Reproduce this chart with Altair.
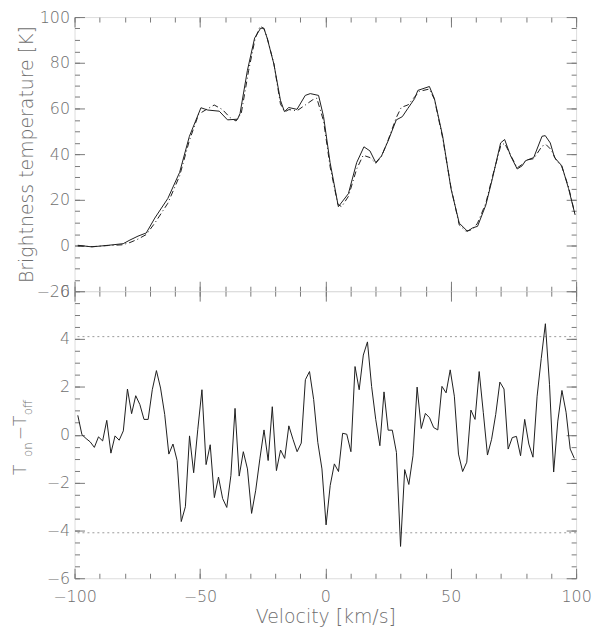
import altair as alt
import pandas as pd

# ---------------- data ----------------
# top panel: observed spectrum (solid line)
obs_v = [-98.7, -93.1, -86.5, -80.6, -77.9, -74.7, -71.4, -68.0, -62.8, -58.1,
         -54.2, -49.6, -46.9, -42.3, -39.0, -35.0, -34.0, -31.1, -28.2, -25.8,
         -24.5, -23.2, -20.5, -17.9, -16.3, -14.6, -11.3, -8.0, -6.0, -2.7,
         -0.7, 1.9, 5.2, 9.2, 12.5, 15.4, 17.8, 20.1, 22.4, 25.0,
         28.3, 30.7, 32.9, 35.6, 36.9, 41.5, 43.5, 46.8, 50.1, 53.4,
         56.7, 58.7, 60.7, 64.0, 66.6, 69.9, 71.5, 73.9, 76.5, 78.5,
         79.8, 83.1, 86.4, 87.7, 89.7, 91.4, 94.3, 97.0, 99.6]
obs_t = [0.1, -0.6, 0.1, 0.8, 2.4, 4.1, 5.5, 12.0, 20.6, 32.0,
         47.8, 60.3, 59.3, 58.8, 55.0, 55.3, 57.8, 76.5, 90.8, 95.1,
         95.1, 90.8, 79.4, 63.6, 58.6, 60.4, 59.6, 65.7, 66.5, 65.7,
         56.4, 36.3, 17.0, 22.7, 36.3, 43.2, 41.4, 36.3, 39.2, 45.7,
         55.0, 56.4, 60.0, 64.3, 67.9, 69.6, 64.3, 47.8, 24.9, 9.8,
         6.2, 7.7, 8.4, 17.7, 29.2, 44.9, 46.4, 39.2, 33.5, 34.9,
         37.1, 38.5, 47.8, 48.1, 44.9, 38.5, 34.9, 24.9, 13.4]

# top panel: model spectrum (dash-dot line)
mod_v = [-98.7, -93.0, -86.5, -81.0, -77.9, -74.7, -71.4, -68.0, -62.8, -58.1,
         -54.2, -50.5, -47.5, -44.3, -41.0, -38.0, -35.6, -33.5, -30.6, -28.0,
         -26.0, -24.5, -23.2, -20.5, -17.9, -16.2, -14.5, -11.3, -8.0, -5.0,
         -3.4, -0.7, 1.9, 5.0, 6.5, 9.2, 12.5, 15.1, 17.8, 20.1,
         22.4, 25.0, 28.3, 30.3, 32.9, 35.6, 37.5, 41.5, 43.5, 46.8,
         50.1, 53.4, 56.0, 58.7, 60.7, 64.0, 66.6, 69.9, 71.5, 73.9,
         76.5, 78.5, 80.5, 83.1, 86.4, 88.0, 90.0, 92.0, 94.3, 97.0, 99.6]
mod_t = [-0.2, -0.5, 0.0, 0.3, 1.3, 2.8, 4.8, 9.8, 18.5, 30.5,
         46.0, 57.5, 59.5, 61.5, 59.5, 56.0, 54.5, 58.0, 76.5, 90.5,
         96.0, 95.0, 91.0, 79.5, 62.0, 58.5, 59.5, 59.0, 61.5, 63.8,
         64.5, 54.5, 34.5, 18.0, 17.0, 21.5, 33.5, 39.5, 38.5, 36.0,
         39.0, 46.0, 56.0, 60.5, 61.5, 65.0, 67.5, 68.5, 64.0, 47.0,
         25.5, 9.0, 6.3, 7.0, 9.8, 18.5, 30.0, 43.5, 44.8, 39.5,
         34.0, 35.5, 37.5, 38.0, 43.5, 44.2, 42.0, 37.5, 34.5, 25.5, 13.5]

# bottom panel: residual T_on - T_off
res_v = [-98.70, -97.05, -95.40, -93.75, -92.10, -90.45, -88.80, -87.15, -85.50, -83.85,
         -82.20, -80.55, -78.90, -77.25, -75.60, -73.95, -72.30, -70.65, -69.00, -67.35,
         -65.70, -64.05, -62.40, -60.75, -59.10, -57.45, -55.80, -54.15, -52.50, -50.85,
         -49.20, -47.55, -45.90, -44.25, -42.60, -40.95, -39.30, -37.65, -36.00, -34.35,
         -32.70, -31.05, -29.40, -27.75, -26.10, -24.45, -22.80, -21.15, -19.50, -17.85,
         -16.20, -14.55, -12.90, -11.25, -9.60, -7.95, -6.30, -4.65, -3.00, -1.35,
         0.30, 1.95, 3.60, 5.25, 6.90, 8.55, 10.20, 11.85, 13.50, 15.15,
         16.80, 18.45, 20.10, 21.75, 23.40, 25.05, 26.70, 28.35, 30.00, 31.65,
         33.30, 34.95, 36.60, 38.25, 39.90, 41.55, 43.20, 44.85, 46.50, 48.15,
         49.80, 51.45, 53.10, 54.75, 56.40, 58.05, 59.70, 61.35, 63.00, 64.65,
         66.30, 67.95, 69.60, 71.25, 72.90, 74.55, 76.20, 77.85, 79.50, 81.15,
         82.80, 84.45, 86.10, 87.75, 89.40, 91.05, 92.70, 94.35, 96.00, 97.65, 99.30]
res_t = [0.81, 0.00, -0.16, -0.30, -0.53, -0.09, -0.26, 0.60, -0.77, -0.05,
         -0.23, 0.16, 1.91, 0.88, 1.63, 1.26, 0.64, 0.64, 1.88, 2.68,
         1.95, 0.85, -0.81, -0.39, -1.08, -3.63, -3.01, -0.05, -1.59, 0.23,
         1.88, -1.25, -0.42, -2.63, -1.77, -2.67, -3.04, -1.70, 1.10, -1.73,
         -0.71, -1.43, -3.29, -2.32, -1.01, 0.20, -1.08, 1.17, -1.50, -0.64,
         -0.99, 0.37, -0.19, -0.71, -0.35, 2.30, 2.64, 1.47, -0.32, -1.43,
         -3.77, -2.12, -1.22, -1.54, 0.06, 0.02, -0.71, 2.85, 1.88, 3.33,
         3.88, 2.02, 0.64, -0.46, 1.79, 0.19, 0.19, -0.74, -4.67, -1.46,
         -2.08, -0.88, 1.99, 0.26, 0.89, 0.71, 0.30, 0.20, 2.02, 1.75,
         2.71, 1.61, -0.81, -1.54, -1.15, 1.03, 0.64, 2.64, 0.92, -0.85,
         -0.19, 0.85, 2.20, 1.91, -0.60, -0.12, -0.07, -0.88, 0.64, -0.39,
         -0.94, 1.61, 3.19, 4.64, 2.09, -1.56, 0.57, 1.85, 0.94, -0.60, -0.99]

# 3-sigma reference levels
sigma_levels = [4.1, -4.1]

# axis ticks
x_major = [-100, -50, 0, 50, 100]
x_minor = [-100, -90, -80, -70, -60, -50, -40, -30, -20, -10, 0,
           10, 20, 30, 40, 50, 60, 70, 80, 90, 100]
top_major = [-20, 0, 20, 40, 60, 80, 100]
top_minor = [-20, -15, -10, -5, 0, 5, 10, 15, 20, 25, 30, 35, 40, 45, 50, 55,
             60, 65, 70, 75, 80, 85, 90, 95, 100]
bot_major = [-6, -4, -2, 0, 2, 4, 6]
bot_minor = [-6, -5.5, -5, -4.5, -4, -3.5, -3, -2.5, -2, -1.5, -1, -0.5, 0,
             0.5, 1, 1.5, 2, 2.5, 3, 3.5, 4, 4.5, 5, 5.5, 6]

# ---------------- styling ----------------
FONT = "DejaVu Sans"
TXT = "#6e6e6e"
AX = "#7a7a7a"
LINE = "#1e1e1e"
W = 505
H_TOP = 276
H_BOT = 289

obs_df = pd.DataFrame({"v": obs_v, "t": obs_t})
mod_df = pd.DataFrame({"v": mod_v, "t": mod_t})
res_df = pd.DataFrame({"v": res_v, "r": res_t})
sig_df = pd.DataFrame({"s": sigma_levels})

xs = alt.Scale(domain=[-100, 100], nice=False, zero=False)
ys_top = alt.Scale(domain=[-20, 100], nice=False, zero=False)
ys_bot = alt.Scale(domain=[-6, 6], nice=False, zero=False)


def tick_axis(orient, values, size):
    return alt.Axis(orient=orient, values=values, tickSize=size, offset=-size,
                    labels=False, domain=False, grid=False, title=None,
                    ticks=True, tickColor=AX, tickWidth=1)


def label_axis_y(values, title):
    kw = dict(orient="left", values=values, ticks=False, domain=False, grid=False,
              labelPadding=5, labelFont=FONT, labelFontSize=16, labelColor=TXT,
              labelFontWeight=200)
    if title:
        kw.update(title=title, titleFont=FONT, titleFontSize=19, titleColor=TXT,
                  titleFontWeight=200, titlePadding=0)
    else:
        kw.update(title=None)
    return alt.Axis(**kw)


# ---------------- top panel ----------------
t_obs = alt.Chart(obs_df).mark_line(color=LINE, strokeWidth=1).encode(
    x=alt.X("v:Q", scale=xs, axis=tick_axis("bottom", x_major, 10)),
    y=alt.Y("t:Q", scale=ys_top, axis=label_axis_y(top_major, "Brightness temperature [K]")),
)
t_mod = alt.Chart(mod_df).mark_line(color=LINE, strokeWidth=1, strokeDash=[6, 3, 1, 3]).encode(
    x=alt.X("v:Q", scale=xs, axis=tick_axis("bottom", x_minor, 5)),
    y=alt.Y("t:Q", scale=ys_top, axis=tick_axis("left", top_major, 10)),
)
t_a1 = alt.Chart(obs_df).mark_line(opacity=0).encode(
    x=alt.X("v:Q", scale=xs, axis=tick_axis("top", x_major, 10)),
    y=alt.Y("t:Q", scale=ys_top, axis=tick_axis("left", top_minor, 5)),
)
t_a2 = alt.Chart(obs_df).mark_line(opacity=0).encode(
    x=alt.X("v:Q", scale=xs, axis=tick_axis("top", x_minor, 5)),
    y=alt.Y("t:Q", scale=ys_top, axis=tick_axis("right", top_major, 10)),
)
t_a3 = alt.Chart(obs_df).mark_line(opacity=0).encode(
    x=alt.X("v:Q", scale=xs, axis=None),
    y=alt.Y("t:Q", scale=ys_top, axis=tick_axis("right", top_minor, 5)),
)
top = alt.layer(t_obs, t_mod, t_a1, t_a2, t_a3).resolve_axis(
    x="independent", y="independent").properties(width=W, height=H_TOP)

# ---------------- bottom panel ----------------
b_res = alt.Chart(res_df).mark_line(color=LINE, strokeWidth=1).encode(
    x=alt.X("v:Q", scale=xs, axis=alt.Axis(
        orient="bottom", values=x_major, ticks=False, domain=False, grid=False,
        labelFlush=False, labelPadding=10, labelFont=FONT, labelFontSize=16,
        labelColor=TXT, labelFontWeight=200,
        title="Velocity [km/s]", titleFont=FONT, titleFontSize=19, titleColor=TXT,
        titleFontWeight=200, titlePadding=4)),
    y=alt.Y("r:Q", scale=ys_bot, axis=label_axis_y(bot_major, None)),
)
b_sig = alt.Chart(sig_df).mark_rule(color="#9a9a9a", strokeWidth=1, strokeDash=[2, 3]).encode(
    y=alt.Y("s:Q", scale=ys_bot, axis=tick_axis("left", bot_major, 10)),
)
b_a1 = alt.Chart(res_df).mark_line(opacity=0).encode(
    x=alt.X("v:Q", scale=xs, axis=tick_axis("bottom", x_major, 10)),
    y=alt.Y("r:Q", scale=ys_bot, axis=tick_axis("left", bot_minor, 5)),
)
b_a2 = alt.Chart(res_df).mark_line(opacity=0).encode(
    x=alt.X("v:Q", scale=xs, axis=tick_axis("bottom", x_minor, 5)),
    y=alt.Y("r:Q", scale=ys_bot, axis=tick_axis("right", bot_major, 10)),
)
b_a3 = alt.Chart(res_df).mark_line(opacity=0).encode(
    x=alt.X("v:Q", scale=xs, axis=tick_axis("top", x_major, 10)),
    y=alt.Y("r:Q", scale=ys_bot, axis=tick_axis("right", bot_minor, 5)),
)
b_a4 = alt.Chart(res_df).mark_line(opacity=0).encode(
    x=alt.X("v:Q", scale=xs, axis=tick_axis("top", x_minor, 5)),
    y=alt.Y("r:Q", scale=ys_bot, axis=None),
)

one = pd.DataFrame({"k": [0]})


def ttl(text, x, y, size):
    return alt.Chart(one).mark_text(
        angle=270, align="left", baseline="alphabetic", font=FONT,
        fontSize=size, fontWeight=200, color=TXT).encode(
        x=alt.value(x), y=alt.value(y), text=alt.value(text))


b_title = [ttl("T", -49, 185, 17), ttl("on", -43, 167, 12),
           ttl("\u2212T", -49, 150, 17), ttl("off", -43, 125, 12)]

bottom = alt.layer(b_sig, b_res, b_a1, b_a2, b_a3, b_a4, *b_title).resolve_axis(
    x="independent", y="independent").properties(width=W, height=H_BOT)

chart = alt.vconcat(top, bottom, spacing=0, bounds="flush").properties(
    padding={"left": 3, "top": -2, "right": 0, "bottom": 0}
).configure_view(stroke="#555555", strokeWidth=1).configure(background="white")

chart.save("out.html", embed_options={"renderer": "svg", "actions": False})
